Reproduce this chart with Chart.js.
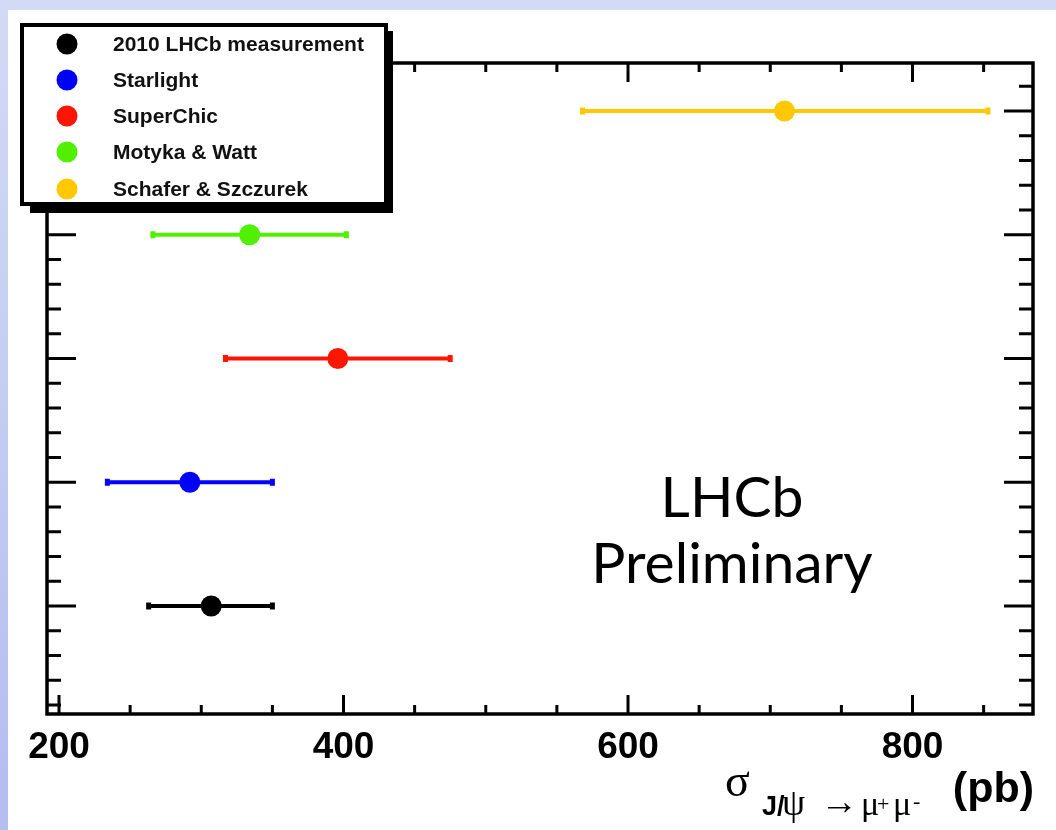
<!DOCTYPE html>
<html>
<head>
<meta charset="utf-8">
<script src="https://cdn.jsdelivr.net/npm/chart.js@4.4.1/dist/chart.umd.min.js"></script>
<style>
  html, body { margin: 0; padding: 0; }
  body { width: 1056px; height: 830px; overflow: hidden; position: relative;
         background: linear-gradient(180deg, #d3daf5 0%, #c4ccf2 50%, #b3bdef 100%); }
  #panel { position: absolute; left: 8px; top: 10px; right: 0; bottom: 0; background: #ffffff; }
  #c { position: absolute; left: 0; top: 0; }
</style>
</head>
<body>
<div id="panel"></div>
<canvas id="c" width="1056" height="830"></canvas>
<script>
// ---- data ----
const models   = ['2010 LHCb measurement', 'Starlight', 'SuperChic', 'Motyka & Watt', 'Schafer & Szczurek'];
const rows     = [1, 2, 3, 4, 5];
const central  = [307, 292, 396, 334, 710];
const errLow   = [263, 234, 317, 266, 568];
const errHigh  = [350, 350, 475, 402, 853];
const colors   = ['#000000', '#0000ff', '#ff1500', '#50f000', '#ffc800'];
const xTickLabels = ['200', '400', '600', '800'];
const xMajorValues = [200, 400, 600, 800];
const xMinorStep = 50;
const yMinorStep = 0.2;

Chart.defaults.font.family = "'Liberation Sans', Arial, sans-serif";

const datasets = models.map((m, i) => ({
  label: m,
  data: [{ x: central[i], y: rows[i] }],
  backgroundColor: colors[i],
  borderColor: colors[i],
  pointRadius: 10.5,
  pointHoverRadius: 10.5,
  borderWidth: 0
}));

const errorBars = {
  id: 'errorBars',
  beforeDatasetsDraw(chart) {
    const ctx = chart.ctx, xs = chart.scales.x, ys = chart.scales.y;
    ctx.save();
    for (let i = 0; i < models.length; i++) {
      const y = ys.getPixelForValue(rows[i]);
      const x1 = xs.getPixelForValue(errLow[i]);
      const x2 = xs.getPixelForValue(errHigh[i]);
      ctx.strokeStyle = colors[i];
      ctx.fillStyle = colors[i];
      ctx.lineWidth = 4;
      ctx.beginPath(); ctx.moveTo(x1, y); ctx.lineTo(x2, y); ctx.stroke();
      ctx.fillRect(x1 - 2.5, y - 3.5, 5, 7);
      ctx.fillRect(x2 - 2.5, y - 3.5, 5, 7);
    }
    ctx.restore();
  }
};

const frameAndTicks = {
  id: 'frameAndTicks',
  afterDraw(chart) {
    const ctx = chart.ctx, a = chart.chartArea, xs = chart.scales.x, ys = chart.scales.y;
    ctx.save();
    ctx.strokeStyle = '#000';
    ctx.lineWidth = 3;
    ctx.lineCap = 'butt';
    // x ticks (bottom & top, inward)
    xs.ticks.forEach(t => {
      const x = xs.getPixelForValue(t.value);
      const major = xMajorValues.includes(t.value);
      const L = major ? 19 : 9;
      ctx.beginPath();
      ctx.moveTo(x, a.bottom); ctx.lineTo(x, a.bottom - L);
      ctx.moveTo(x, a.top); ctx.lineTo(x, a.top + L);
      ctx.stroke();
    });
    // y ticks (left & right, inward)
    ys.ticks.forEach(t => {
      const y = ys.getPixelForValue(t.value);
      const major = Math.abs(t.value - Math.round(t.value)) < 1e-6;
      const L = major ? 29 : 14;
      ctx.beginPath();
      ctx.moveTo(a.left, y); ctx.lineTo(a.left + L, y);
      ctx.moveTo(a.right, y); ctx.lineTo(a.right - L, y);
      ctx.stroke();
    });
    // frame
    ctx.lineWidth = 3.5;
    ctx.strokeRect(a.left, a.top, a.right - a.left, a.bottom - a.top);

    // legend box with shadow
    ctx.fillStyle = '#000';
    ctx.fillRect(30, 31, 363, 182);
    ctx.fillStyle = '#fff';
    ctx.fillRect(22, 25, 364, 179);
    ctx.lineWidth = 4;
    ctx.strokeRect(22, 25, 364, 179);
    const rowY = [44, 80, 116, 152, 189];
    chart.data.datasets.forEach((ds, i) => {
      ctx.fillStyle = ds.backgroundColor;
      ctx.beginPath(); ctx.arc(67, rowY[i], 10.5, 0, Math.PI * 2); ctx.fill();
      ctx.fillStyle = '#111';
      ctx.font = "bold 21px 'Liberation Sans', Arial, sans-serif";
      ctx.textBaseline = 'middle';
      ctx.textAlign = 'left';
      ctx.fillText(ds.label, 113, rowY[i] + 1);
    });

    // axis title: σ J/ψ → μ+ μ- (pb)
    ctx.fillStyle = '#000';
    ctx.textBaseline = 'alphabetic';
    ctx.textAlign = 'left';
    ctx.font = "46px 'Liberation Serif', 'DejaVu Serif', serif";
    ctx.fillText('σ', 725, 796);
    const bold = "bold 27px 'Liberation Sans', Arial, sans-serif";
    const psi = "37px 'Liberation Serif', 'DejaVu Serif', serif";
    const mu = "34px 'Liberation Serif', 'DejaVu Serif', serif";
    const arr = "38px 'Liberation Serif', 'DejaVu Serif', serif";
    const sup = "22px 'Liberation Serif', 'DejaVu Serif', serif";
    const put = (txt, font, x, base) => { ctx.font = font; ctx.fillText(txt, x, base); };
    put('J/', bold, 762, 815);
    put('ψ', psi, 782, 815);
    put('→', arr, 820, 814);
    put('μ', mu, 861, 815);
    put('+', sup, 877, 811);
    put('μ', mu, 893, 815);
    put('-', sup, 913, 808);
    ctx.font = "bold 43px 'Liberation Sans', Arial, sans-serif";
    ctx.textAlign = 'right';
    ctx.fillText('(pb)', 1034, 802);

    // LHCb Preliminary
    ctx.textAlign = 'center';
    ctx.font = "57px Lato, 'Open Sans', sans-serif";
    ctx.fillText('LHCb', 732, 517);
    ctx.fillText('Preliminary', 732, 583);
    ctx.restore();
  }
};

new Chart(document.getElementById('c'), {
  type: 'scatter',
  data: { datasets },
  options: {
    responsive: false,
    animation: false,
    devicePixelRatio: 1,
    layout: { padding: { left: 0, top: 63, right: 23, bottom: 0 } },
    plugins: { legend: { display: false }, tooltip: { enabled: false } },
    scales: {
      x: {
        type: 'linear',
        min: 191.56,
        max: 884.7,
        afterBuildTicks(scale) {
          const t = [];
          for (let v = xMajorValues[0]; v <= scale.max; v += xMinorStep) t.push({ value: v });
          scale.ticks = t;
        },
        afterFit(scale) { scale.height = 116; },
        grid: { display: false, drawTicks: false },
        border: { display: false },
        ticks: {
          autoSkip: false,
          maxRotation: 0,
          padding: 12,
          color: '#000',
          font: { size: 37, weight: 'bold' },
          callback(v) {
            const k = xMajorValues.indexOf(v);
            return k >= 0 ? xTickLabels[k] : '';
          }
        }
      },
      y: {
        type: 'linear',
        min: 0.1273,
        max: 5.388,
        afterBuildTicks(scale) {
          const t = [];
          for (let k = 1; k * yMinorStep <= scale.max; k++) t.push({ value: Math.round(k * yMinorStep * 10) / 10 });
          scale.ticks = t;
        },
        afterFit(scale) { scale.width = 47; },
        grid: { display: false, drawTicks: false },
        border: { display: false },
        ticks: { display: false }
      }
    }
  },
  plugins: [errorBars, frameAndTicks]
});
</script>
</body>
</html>
